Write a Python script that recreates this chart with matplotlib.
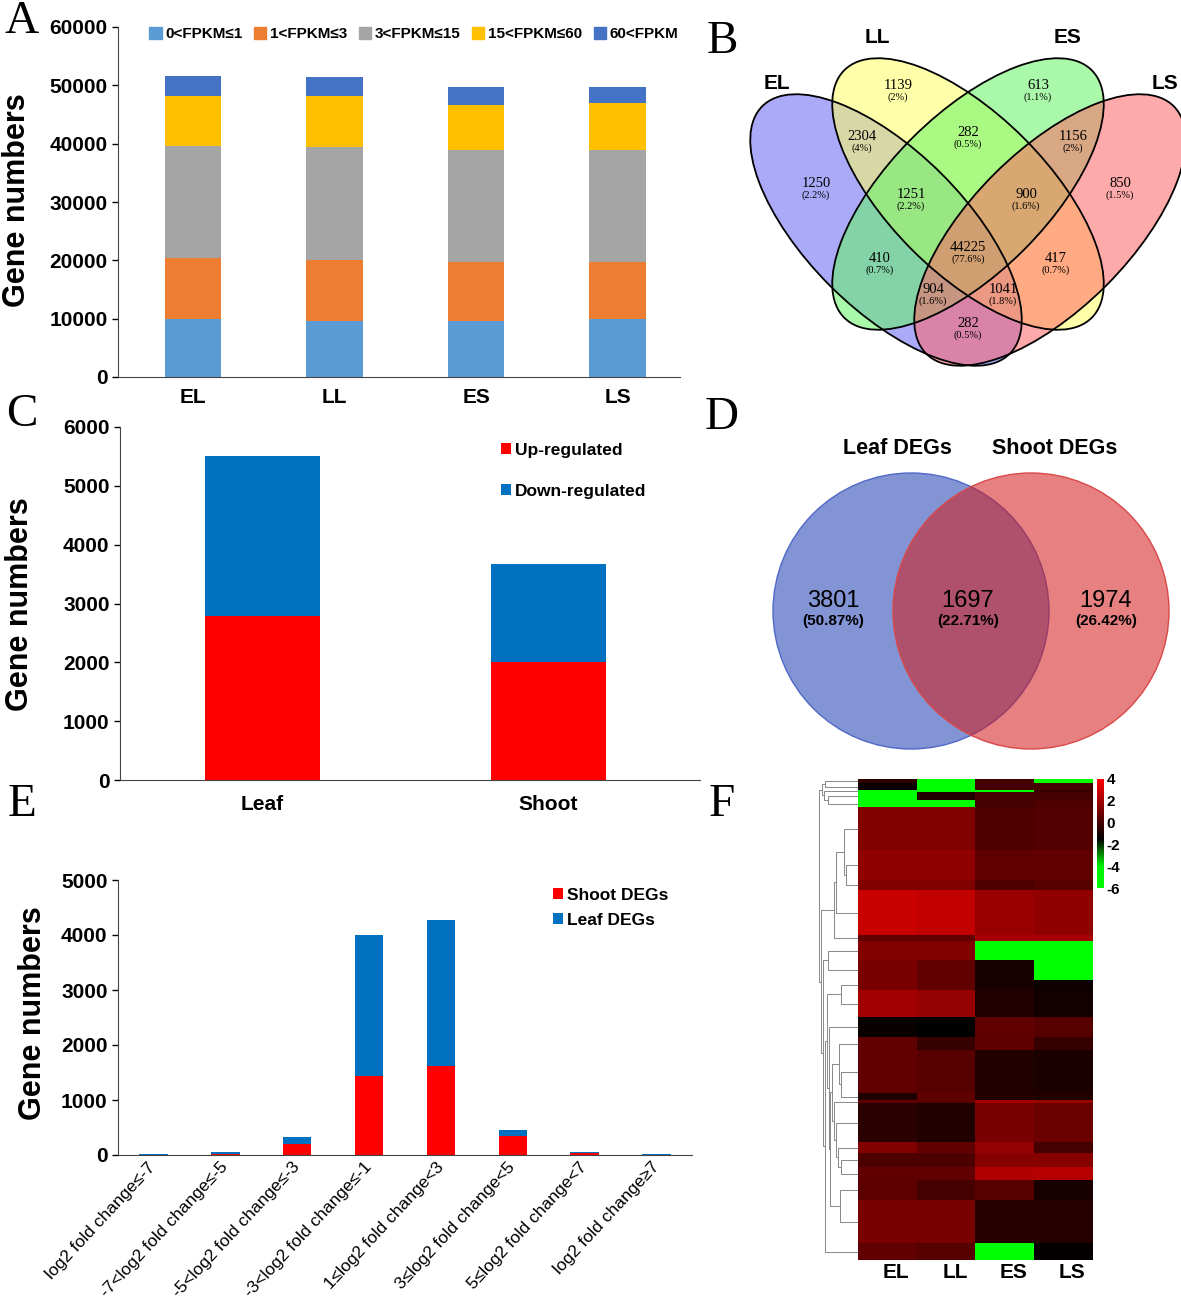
import matplotlib

matplotlib.use("Agg", force=True)

import numpy as np
import matplotlib.pyplot as plt
from matplotlib.patches import Ellipse, Circle, Patch
from matplotlib.colors import LinearSegmentedColormap

# ---- data ----
samples = ['EL', 'LL', 'ES', 'LS']
fpkm_labels = ['0<FPKM≤1', '1<FPKM≤3', '3<FPKM≤15', '15<FPKM≤60', '60<FPKM']
fpkm_0_1 = [9900, 9600, 9600, 9900]
fpkm_1_3 = [10500, 10500, 10100, 9800]
fpkm_3_15 = [19200, 19400, 19200, 19200]
fpkm_15_60 = [8600, 8700, 7700, 8100]
fpkm_60 = [3400, 3300, 3100, 2700]

# 4-way venn (B): region counts and percents
venn4_counts = [1139, 613, 1250, 850, 2304, 282, 1156, 1251, 900,
                410, 44225, 417, 904, 1041, 282]
venn4_pcts = ['2%', '1.1%', '2.2%', '1.5%', '4%', '0.5%', '2%', '2.2%', '1.6%',
              '0.7%', '77.6%', '0.7%', '1.6%', '1.8%', '0.5%']

tissues = ['Leaf', 'Shoot']
deg_up = [2780, 2000]
deg_down = [2720, 1670]

venn2_counts = [3801, 1697, 1974]
venn2_pcts = ['(50.87%)', '(22.71%)', '(26.42%)']

fc_bins = ['log2 fold change≤-7', '-7<log2 fold change≤-5', '-5<log2 fold change≤-3',
           '-3<log2 fold change≤-1', '1≤log2 fold change<3', '3≤log2 fold change<5',
           '5≤log2 fold change<7', 'log2 fold change≥7']
fc_shoot = [0, 25, 200, 1430, 1620, 350, 35, 0]
fc_leaf = [20, 25, 125, 2570, 2650, 100, 15, 15]

# heatmap blocks (F): rows per block and values for EL, LL, ES, LS
hm_rows = [4, 7, 2, 8, 7, 43, 30, 10, 45, 6, 19, 20, 10, 27, 20, 13, 43, 7, 3,
           39, 11, 14, 13, 20, 43, 17]
hm_vals = [
    [-0.5, -6, 0.0, -6], [-1.2, -6, 0.0, 0.0], [-6, -6, -6, -0.3],
    [-6, -0.8, 0.0, 0.0], [-6, -6, 0.0, 0.2], [1.3, 1.3, 0.2, 0.3],
    [1.6, 1.6, 0.6, 0.6], [1.3, 1.3, 0.2, 0.4], [2.8, 2.7, 1.8, 1.6],
    [0.6, 0.6, 2.1, 2.1], [1.3, 1.3, -6, -6], [1.1, 0.6, -1.0, -6],
    [1.1, 0.6, -1.0, -1.2], [2.0, 1.7, -0.8, -1.1], [-1.3, -1.5, 0.6, 0.4],
    [0.6, -0.3, 0.5, -0.3], [0.6, 0.4, -0.8, -0.9], [-0.8, 0.6, -0.8, -0.8],
    [0.6, 0.4, 2.1, 1.8], [-0.6, -0.8, 1.1, 0.8], [1.3, 0.6, 1.7, 0.0],
    [0.2, 0.2, 1.4, 1.4], [0.6, 0.6, 2.3, 2.4], [0.5, 0.0, 0.4, -1.0],
    [1.1, 1.1, -0.7, -0.7], [0.6, 0.4, -6, -1.4]]

W, H = 1181, 1303
SANS = 'Liberation Sans'
SERIF = 'Liberation Serif'
plt.rcParams['font.family'] = SANS
plt.rcParams['axes.unicode_minus'] = False


def rect(l, t, r, b):
    return [l / W, 1 - b / H, (r - l) / W, (b - t) / H]


def style_axes(ax, fs=15):
    ax.spines['top'].set_visible(False)
    ax.spines['right'].set_visible(False)
    ax.spines['left'].set_color('#444444')
    ax.spines['bottom'].set_color('#444444')
    ax.tick_params(axis='y', labelsize=fs, length=4, width=1, colors='black')
    ax.tick_params(axis='x', labelsize=fs, length=0)
    for t in ax.get_xticklabels() + ax.get_yticklabels():
        t.set_fontweight('bold')


fig = plt.figure(figsize=(W / 100, H / 100), dpi=100)

# panel letters
for letter, (px, py) in zip('ABCDEF', [(22, 22), (722, 42), (22, 415),
                                       (722, 418), (22, 805), (722, 805)]):
    fig.text(px / W, 1 - py / H, letter, family=SERIF, fontsize=34,
             ha='center', va='center')

# ---- A ----
axA = fig.add_axes(rect(118, 27, 680, 377))
colorsA = ['#5B9BD5', '#ED7D31', '#A5A5A5', '#FFC000', '#4472C4']
xA = np.arange(len(samples))
bottom = np.zeros(len(samples))
for vals, lab, col in zip([fpkm_0_1, fpkm_1_3, fpkm_3_15, fpkm_15_60, fpkm_60],
                          fpkm_labels, colorsA):
    axA.bar(xA, vals, 0.4, bottom=bottom, color=col, label=lab)
    bottom += np.array(vals)
axA.set_xlim(-0.53, 3.44)
axA.set_ylim(0, 60000)
axA.set_yticks(range(0, 60001, 10000))
axA.set_xticks(xA, samples)
style_axes(axA)
axA.tick_params(axis='x', pad=8)
fig.text(17 / W, 1 - 200 / H, 'Gene numbers', rotation=90, fontsize=22,
         fontweight='bold', ha='center', va='center')
fig.legend(handles=[Patch(color=c, label=l) for c, l in zip(colorsA, fpkm_labels)],
           loc='center', bbox_to_anchor=(414 / W, 1 - 34 / H), ncol=5, frameon=False,
           handlelength=0.8, handleheight=0.8, handletextpad=0.25, columnspacing=0.75,
           prop={'family': SANS, 'weight': 'bold', 'size': 11})

# ---- B ----
axB = fig.add_axes(rect(740, 20, 1181, 400))
axB.set_xlim(740, 1181)
axB.set_ylim(400, 20)
axB.axis('off')
ell = [((886, 230), 45, '#6464F5'), ((968, 194), 45, '#FFFF64'),
       ((968, 194), -45, '#64F564'), ((1050, 230), -45, '#FF6464')]
for (c, ang, col) in ell:
    axB.add_patch(Ellipse(c, 350, 158, angle=ang, facecolor=col, alpha=0.55,
                          edgecolor='none'))
for (c, ang, col) in ell:
    axB.add_patch(Ellipse(c, 350, 158, angle=ang, fill=False, edgecolor='black',
                          lw=1.3))
venn4_pos = [(898, 90), (1038, 90), (816, 188), (1120, 188), (862, 141), (968, 137),
             (1073, 141), (911, 199), (1026, 199), (880, 263), (968, 252),
             (1056, 263), (933, 294), (1003, 294), (968, 328)]
for (x, y), n, p in zip(venn4_pos, venn4_counts, venn4_pcts):
    axB.text(x, y - 4, str(n), family=SERIF, fontsize=10.5, ha='center', va='center')
    axB.text(x, y + 7, '(' + p + ')', family=SERIF, fontsize=7.5, ha='center',
             va='center')
for s, (x, y) in zip(samples, [(777, 84), (877, 38), (1068, 38), (1165, 84)]):
    axB.text(x, y, s, fontsize=15, fontweight='bold', ha='center', va='center')

# ---- C ----
axC = fig.add_axes(rect(120, 427, 700, 780))
xC = np.arange(len(tissues))
axC.bar(xC, deg_up, 0.4, color='#FF0000', label='Up-regulated')
axC.bar(xC, deg_down, 0.4, bottom=deg_up, color='#0070C0', label='Down-regulated')
axC.set_xlim(-0.498, 1.53)
axC.set_ylim(0, 6000)
axC.set_yticks(range(0, 6001, 1000))
axC.set_xticks(xC, tissues)
style_axes(axC)
axC.tick_params(axis='x', pad=11)
fig.text(20 / W, 1 - 604 / H, 'Gene numbers', rotation=90, fontsize=22,
         fontweight='bold', ha='center', va='center')
axC.legend(loc='upper left', bbox_to_anchor=(485 / W, 1 - 427 / H),
           bbox_transform=fig.transFigure, frameon=False, labelspacing=1.5,
           handlelength=0.6, handleheight=0.6, handletextpad=0.2,
           prop={'family': SANS, 'weight': 'bold', 'size': 12.5})

# ---- D ----
axDv = fig.add_axes(rect(740, 430, 1181, 760))
axDv.set_xlim(740, 1181)
axDv.set_ylim(760, 430)
axDv.axis('off')
axDv.add_patch(Circle((911, 611), 138, facecolor='#8294D4', edgecolor='#5068C8', lw=1))
axDv.add_patch(Circle((1031, 611), 138, facecolor='#D51818', alpha=0.55,
                      edgecolor='none'))
axDv.add_patch(Circle((1031, 611), 138, fill=False, edgecolor='#D84848', lw=1))
axDv.text(897, 448, 'Leaf DEGs', fontsize=15.5, fontweight='bold', ha='center',
          va='center')
axDv.text(1055, 448, 'Shoot DEGs', fontsize=15.5, fontweight='bold', ha='center',
          va='center')
for x, n, p in zip([833, 968, 1106], venn2_counts, venn2_pcts):
    axDv.text(x, 601, str(n), fontsize=17, ha='center', va='center')
    axDv.text(x, 621, p, fontsize=11, fontweight='bold', ha='center', va='center')

# ---- E ----
axE = fig.add_axes(rect(118, 880, 692, 1155))
xE = np.arange(len(fc_bins))
axE.bar(xE, fc_shoot, 0.4, color='#FF0000', label='Shoot DEGs')
axE.bar(xE, fc_leaf, 0.4, bottom=fc_shoot, color='#0070C0', label='Leaf DEGs')
axE.set_xlim(-0.49, 7.49)
axE.set_ylim(0, 5000)
axE.set_yticks(range(0, 5001, 1000))
axE.set_xticks(xE, fc_bins)
style_axes(axE)
for t in axE.get_xticklabels():
    t.set_fontweight('normal')
    t.set_rotation(47)
    t.set_rotation_mode('anchor')
    t.set_ha('right')
    t.set_va('center')
    t.set_fontsize(12.5)
axE.tick_params(axis='x', pad=7)
fig.text(33 / W, 1 - 1013 / H, 'Gene numbers', rotation=90, fontsize=22,
         fontweight='bold', ha='center', va='center')
axE.legend(loc='upper left', bbox_to_anchor=(537 / W, 1 - 872 / H),
           bbox_transform=fig.transFigure, frameon=False, labelspacing=0.6,
           handlelength=0.6, handleheight=0.6, handletextpad=0.2,
           prop={'family': SANS, 'weight': 'bold', 'size': 12.5})

# ---- F ----
mat = np.repeat(np.array(hm_vals), hm_rows, axis=0)
cmap = LinearSegmentedColormap.from_list(
    'gkr', [(0, '#00FF00'), (0.2, '#00F000'), (0.45, '#000000'), (1, '#FF0000')])
axF = fig.add_axes(rect(858, 779, 1093, 1260))
im = axF.imshow(mat, aspect='auto', cmap=cmap, vmin=-6, vmax=4,
                interpolation='nearest')
axF.set_xticks([])
axF.set_yticks([])
for sp in axF.spines.values():
    sp.set_visible(False)
for i, s in enumerate(samples):
    axF.text(i + 0.15, mat.shape[0] + 12, s, fontsize=15, fontweight='bold',
             ha='center', va='center')

# dendrogram: merge neighbouring blocks by distance
axT = fig.add_axes(rect(818, 779, 858, 1260))
clusters = []
start = 0
for n, v in zip(hm_rows, hm_vals):
    clusters.append([start + n / 2, np.array(v, dtype=float), n, 0.0])
    start += n
maxh = 0
while len(clusters) > 1:
    d = [np.linalg.norm(clusters[i][1] - clusters[i + 1][1])
         for i in range(len(clusters) - 1)]
    i = int(np.argmin(d))
    a, b = clusters[i], clusters[i + 1]
    h = max(np.sqrt(d[i]), a[3], b[3]) + 0.15
    axT.plot([a[3], h, h, b[3]], [a[0], a[0], b[0], b[0]], color='#888888', lw=0.7)
    n = a[2] + b[2]
    clusters[i:i + 2] = [[(a[0] + b[0]) / 2, (a[1] * a[2] + b[1] * b[2]) / n, n, h]]
    maxh = h
axT.set_ylim(mat.shape[0], 0)
axT.set_xlim(maxh * 1.03, 0)
axT.axis('off')

cax = fig.add_axes(rect(1097, 779, 1104, 888))
cb = fig.colorbar(im, cax=cax, ticks=[4, 2, 0, -2, -4, -6])
cb.outline.set_visible(False)
cax.tick_params(length=0, labelsize=11, pad=2)
for t in cax.get_yticklabels():
    t.set_fontweight('bold')

fig.savefig('out.png', dpi=100)
plt.close(fig)
